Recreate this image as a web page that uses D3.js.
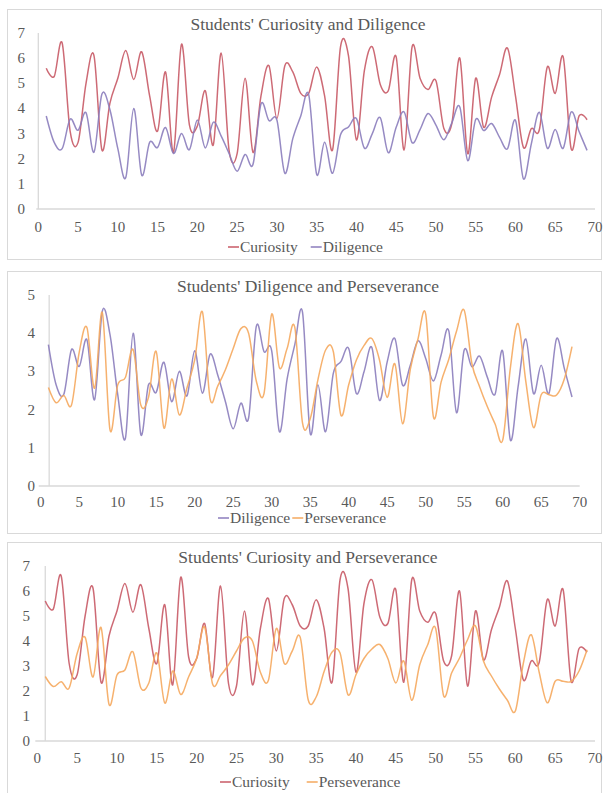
<!DOCTYPE html>
<html>
<head>
<meta charset="utf-8">
<script src="https://cdn.jsdelivr.net/npm/d3@7/dist/d3.min.js"></script>
<style>
  body { margin: 0; background: #fff; }
  svg text { font-family: "Liberation Serif", "Times New Roman", serif; fill: #595959; }
</style>
</head>
<body>
<div id="vis"></div>
<script>
// student number on the x axis
const students = [1, 2, 3, 4, 5, 6, 7, 8, 9, 10, 11, 12, 13, 14, 15, 16, 17, 18, 19, 20,
  21, 22, 23, 24, 25, 26, 27, 28, 29, 30, 31, 32, 33, 34, 35, 36, 37, 38, 39, 40,
  41, 42, 43, 44, 45, 46, 47, 48, 49, 50, 51, 52, 53, 54, 55, 56, 57, 58, 59, 60,
  61, 62, 63, 64, 65, 66, 67, 68, 69]

// scores
const curiosity = [5.6, 5.27, 6.6, 3.1, 2.65, 5.0, 6.1, 2.35, 4.2, 5.2,
  6.3, 5.15, 6.25, 4.5, 3.1, 5.45, 2.25, 6.55, 3.35, 3.3,
  4.7, 2.55, 6.2, 2.3, 2.2, 5.2, 2.25, 4.5, 5.7, 3.6,
  5.7, 5.45, 4.6, 4.6, 5.65, 4.5, 2.35, 6.45, 6.1, 2.75,
  5.5, 6.45, 4.95, 4.7, 6.05, 2.35, 6.45, 5.2, 4.75, 5.1,
  3.2, 3.4, 6.0, 2.2, 5.2, 3.25, 4.45, 5.35, 6.4, 4.5,
  2.45, 3.2, 3.15, 5.65, 4.6, 6.05, 2.4, 3.7, 3.55]

const diligence = [3.7, 2.65, 2.4, 3.57, 3.13, 3.83, 2.26, 4.57, 3.96, 2.4,
  1.25, 4.0, 1.35, 2.65, 2.45, 3.24, 2.21, 3.0, 2.36, 3.54,
  2.43, 3.45, 2.9, 2.2, 1.5, 2.17, 1.78, 4.18, 3.52, 3.54,
  1.42, 2.8, 3.7, 4.55, 1.38, 2.65, 1.42, 2.95, 3.26, 3.6,
  2.42, 3.0, 3.63, 2.24, 3.25, 3.86, 2.64, 3.16, 3.8, 3.34,
  2.75, 3.43, 4.06, 1.92, 3.56, 3.12, 3.4, 2.85, 2.4, 3.53,
  1.2, 2.6, 3.85, 2.42, 3.16, 2.42, 3.86, 3.08, 2.33]

const perseverance = [2.58, 2.18, 2.37, 2.12, 3.5, 4.15, 2.56, 4.54, 1.47, 2.64,
  2.84, 3.57, 2.12, 2.32, 3.52, 1.52, 2.8, 1.86, 2.57, 3.3,
  4.56, 2.28, 2.62, 3.05, 3.6, 4.12, 4.0, 2.75, 2.42, 4.5,
  3.1, 3.6, 4.15, 1.65, 1.76, 2.78, 3.56, 3.52, 1.85, 2.65,
  3.3, 3.68, 3.86, 3.3, 2.32, 3.2, 1.63, 3.05, 3.85, 4.5,
  1.81, 2.72, 3.32, 4.05, 4.6, 3.2, 2.6, 2.08, 1.63, 1.2,
  3.1, 4.25, 2.74, 1.53, 2.39, 2.39, 2.38, 2.8, 3.65]

const xTicks = [0, 5, 10, 15, 20, 25, 30, 35, 40, 45, 50, 55, 60, 65, 70]

const width = 604
const height = 793

const colors = {
  Curiosity: '#c85a66',
  Diligence: '#8b7dbd',
  Perseverance: '#f5a85e'
}

//layout of the three stacked charts
const panels = [
  {
    title: "Students' Curiosity and Diligence",
    box: [7, 9, 601, 259],
    xLeft: 38.3, xRight: 595, yTop: 33, yBottom: 209, yMax: 7,
    yLineAt: 0, yLabelRight: 25,
    titleY: 30, xLabelY: 232, legendY: 247, legendX: 228, legendGap: 13,
    series: [['Curiosity', curiosity], ['Diligence', diligence]]
  },
  {
    title: "Students' Diligence and Perseverance",
    box: [7, 271, 601, 533],
    xLeft: 40.7, xRight: 579.7, yTop: 295, yBottom: 486, yMax: 5,
    yLineAt: 1.1, yLabelRight: 35,
    titleY: 292, xLabelY: 507, legendY: 518, legendX: 218, legendGap: 2,
    series: [['Diligence', diligence], ['Perseverance', perseverance]]
  },
  {
    title: "Students' Curiosity and Perseverance",
    box: [7, 542, 601, 800],
    xLeft: 37.3, xRight: 595, yTop: 566, yBottom: 741, yMax: 7,
    yLineAt: 1, yLabelRight: 30,
    titleY: 563, xLabelY: 763, legendY: 782, legendX: 220, legendGap: 17,
    series: [['Curiosity', curiosity], ['Perseverance', perseverance]]
  }
]

const svg = d3.select('#vis')
  .append('svg')
  .attr('width', width)
  .attr('height', height)

panels.forEach(p => drawPanel(p))

function drawPanel(p) {
  const g = svg.append('g')

  //chart border
  g.append('rect')
    .attr('x', p.box[0] + 0.5)
    .attr('y', p.box[1] + 0.5)
    .attr('width', p.box[2] - p.box[0])
    .attr('height', p.box[3] - p.box[1])
    .attr('fill', '#fff')
    .attr('stroke', '#d9d9d9')

  const x = d3.scaleLinear().domain([0, 70]).range([p.xLeft, p.xRight])
  const y = d3.scaleLinear().domain([0, p.yMax]).range([p.yBottom, p.yTop])

  //axis lines
  g.append('line')
    .attr('x1', x(0) - 2).attr('x2', x(70))
    .attr('y1', y(0)).attr('y2', y(0))
    .attr('stroke', '#d9d9d9').attr('stroke-width', 1.3)
  g.append('line')
    .attr('x1', x(p.yLineAt)).attr('x2', x(p.yLineAt))
    .attr('y1', y(p.yMax)).attr('y2', y(0))
    .attr('stroke', '#d9d9d9').attr('stroke-width', 1.3)

  //tick labels
  g.selectAll('.xlab')
    .data(xTicks)
    .enter()
    .append('text')
    .attr('x', d => x(d))
    .attr('y', p.xLabelY)
    .attr('text-anchor', 'middle')
    .style('font-size', '15px')
    .text(d => d)

  g.selectAll('.ylab')
    .data(y.ticks(p.yMax))
    .enter()
    .append('text')
    .attr('x', p.yLabelRight)
    .attr('y', d => y(d))
    .attr('dy', '0.33em')
    .attr('text-anchor', 'end')
    .style('font-size', '15px')
    .text(d => d)

  //smooth lines like the spreadsheet ones
  const line = d3.line()
    .x((d, i) => x(students[i]))
    .y(d => y(d))
    .curve(d3.curveCatmullRom.alpha(0))

  p.series.forEach(([name, values]) => {
    g.append('path')
      .datum(values)
      .attr('d', line)
      .attr('fill', 'none')
      .attr('stroke', colors[name])
      .attr('stroke-width', 1.5)
      .attr('stroke-opacity', 0.9)
  })

  //title
  g.append('text')
    .attr('x', (p.box[0] + p.box[2]) / 2 + 4)
    .attr('y', p.titleY)
    .attr('text-anchor', 'middle')
    .style('font-size', '17.5px')
    .text(p.title)

  //legend
  let lx = p.legendX
  p.series.forEach(([name]) => {
    g.append('line')
      .attr('x1', lx).attr('x2', lx + 11)
      .attr('y1', p.legendY).attr('y2', p.legendY)
      .attr('stroke', colors[name])
      .attr('stroke-width', 1.5)
    const t = g.append('text')
      .attr('x', lx + 12)
      .attr('y', p.legendY)
      .attr('dy', '0.33em')
      .style('font-size', '15.5px')
      .text(name)
    lx += 12 + t.node().getComputedTextLength() + p.legendGap
  })
}
</script>
</body>
</html>
